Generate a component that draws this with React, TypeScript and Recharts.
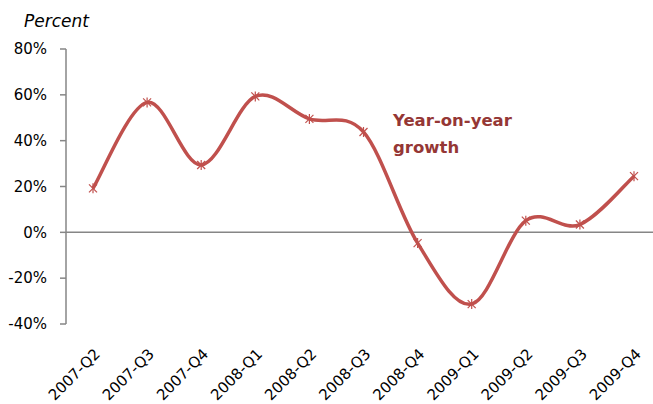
import React from 'react';
import { LineChart, Line, XAxis, YAxis, ReferenceLine } from 'recharts';

const quarters = [
  '2007-Q2', '2007-Q3', '2007-Q4', '2008-Q1', '2008-Q2', '2008-Q3',
  '2008-Q4', '2009-Q1', '2009-Q2', '2009-Q3', '2009-Q4',
];
const growth = [19.2, 56.7, 29.4, 59.3, 49.5, 43.8, -4.7, -31.3, 5.1, 3.4, 24.5];
const yTicks = [-40, -20, 0, 20, 40, 60, 80];

const data = quarters.map((q, i) => ({ q, growth: growth[i] }));

const RED = '#c0504d';
const FONT = '"DejaVu Sans", sans-serif';

// Excel-like smoothed line (Catmull-Rom through the points)
const smoothCurve = (context: any) => {
  let pts: number[][] = [];
  return {
    areaStart() {},
    areaEnd() {},
    lineStart() {
      pts = [];
    },
    point(x: number, y: number) {
      pts.push([+x, +y]);
    },
    lineEnd() {
      const n = pts.length;
      if (!n) return;
      context.moveTo(pts[0][0], pts[0][1]);
      for (let i = 0; i < n - 1; i++) {
        const p0 = pts[Math.max(i - 1, 0)];
        const p1 = pts[i];
        const p2 = pts[i + 1];
        const p3 = pts[Math.min(i + 2, n - 1)];
        context.bezierCurveTo(
          p1[0] + (p2[0] - p0[0]) / 6,
          p1[1] + (p2[1] - p0[1]) / 6,
          p2[0] - (p3[0] - p1[0]) / 6,
          p2[1] - (p3[1] - p1[1]) / 6,
          p2[0],
          p2[1]
        );
      }
    },
  };
};

const StarDot = (props: any) => {
  const { cx, cy, index } = props;
  const r = 4;
  return (
    <g key={`dot-${index}`} stroke={RED} strokeWidth={1.2}>
      <line x1={cx - r} y1={cy - r} x2={cx + r} y2={cy + r} />
      <line x1={cx - r} y1={cy + r} x2={cx + r} y2={cy - r} />
      <line x1={cx} y1={cy - r - 1} x2={cx} y2={cy + r + 1} />
    </g>
  );
};

const QuarterTick = (props: any) => {
  const { x, y, payload } = props;
  const tx = x + 8;
  const ty = y + 23;
  return (
    <text
      x={tx}
      y={ty}
      textAnchor="end"
      transform={`rotate(-45, ${tx}, ${ty})`}
      fontFamily={FONT}
      fontSize={15}
      fill="#000"
    >
      {payload.value}
    </text>
  );
};

const App = () => {
  return (
    <div
      style={{
        position: 'absolute',
        left: 0,
        top: 0,
        width: 653,
        height: 404,
        overflow: 'hidden',
        background: '#fff',
      }}
    >
      <LineChart
        width={662}
        height={404}
        data={data}
        margin={{ top: 49, right: 1, left: 10, bottom: 0 }}
      >
        <XAxis
          dataKey="q"
          axisLine={false}
          tickLine={false}
          height={80}
          interval={0}
          padding={{ left: 27, right: 27 }}
          tick={<QuarterTick />}
        />
        <YAxis
          domain={[-40, 80]}
          ticks={yTicks}
          width={56}
          tickFormatter={(v) => `${v}%`}
          axisLine={{ stroke: '#868686', strokeWidth: 1.5 }}
          tickLine={{ stroke: '#868686', strokeWidth: 1.5 }}
          tickSize={6}
          tickMargin={13}
          tick={{ fontFamily: FONT, fontSize: 15, fill: '#000' }}
        />
        <ReferenceLine y={0} stroke="#868686" strokeWidth={1.5} />
        <Line
          dataKey="growth"
          type={smoothCurve as any}
          stroke={RED}
          strokeWidth={3.5}
          dot={<StarDot />}
          activeDot={false}
          isAnimationActive={false}
        />
        <text x={24} y={27} fontFamily={FONT} fontStyle="italic" fontSize={17} fill="#000">
          Percent
        </text>
        <text fontFamily={FONT} fontWeight="bold" fontSize={16.5} fill="#953735">
          <tspan x={393} y={126}>Year-on-year</tspan>
          <tspan x={393} y={153}>growth</tspan>
        </text>
      </LineChart>
    </div>
  );
};

export default App;
